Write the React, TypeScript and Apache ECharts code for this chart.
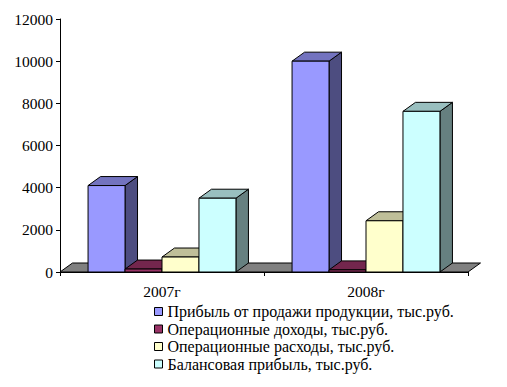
import React, { useEffect, useRef } from "react";
import * as echarts from "echarts";

const categories = ["2007г", "2008г"];
const profitSales = [4100, 10000];
const opIncome = [140, 100];
const opExpense = [710, 2430];
const balanceProfit = [3500, 7620];
const yTicks = { min: 0, max: 12000, interval: 2000 };

const seriesDefs = [
  { name: "Прибыль от продажи продукции, тыс.руб.", values: profitSales, front: "#9999FF", top: "#7373BF", side: "#4D4D80" },
  { name: "Операционные доходы, тыс.руб.", values: opIncome, front: "#993366", top: "#73264D", side: "#4D1A33" },
  { name: "Операционные расходы, тыс.руб.", values: opExpense, front: "#FFFFCC", top: "#BFBF99", side: "#808066" },
  { name: "Балансовая прибыль, тыс.руб.", values: balanceProfit, front: "#CCFFFF", top: "#99BFBF", side: "#668080" },
];

const DX = 12.5;
const DY = -9;
const FONT = "'Liberation Serif', serif";
const stroke = { stroke: "#000", lineWidth: 1 };

export default function App() {
  const ref = useRef<HTMLDivElement>(null);
  useEffect(() => {
    const chart = echarts.init(ref.current!, undefined, { renderer: "svg" });
    const barSeries = seriesDefs.map((s, si) => ({
      type: "custom",
      name: s.name,
      coordinateSystem: "cartesian2d",
      clip: false,
      z: 3,
      itemStyle: { color: s.front },
      encode: { x: 0, y: 1 },
      data: s.values.map((v, i) => [i, v]),
      renderItem: (_p: any, api: any) => {
        const idx = api.value(0);
        const val = api.value(1);
        const band = api.size([1, 0])[0];
        const w = (band * 0.725) / 4;
        const [cx, yTop] = api.coord([idx, val]);
        const [, y0] = api.coord([idx, 0]);
        const x0 = cx - 2 * w + si * w;
        const x1 = x0 + w;
        return {
          type: "group",
          children: [
            { type: "polygon", shape: { points: [[x1, y0], [x1 + DX, y0 + DY], [x1 + DX, yTop + DY], [x1, yTop]] }, style: { fill: s.side, ...stroke } },
            { type: "polygon", shape: { points: [[x0, yTop], [x0 + DX, yTop + DY], [x1 + DX, yTop + DY], [x1, yTop]] }, style: { fill: s.top, ...stroke } },
            { type: "rect", shape: { x: x0, y: yTop, width: w, height: y0 - yTop }, style: { fill: s.front, ...stroke } },
          ],
        };
      },
    }));
    const floor = {
      type: "custom",
      name: "floor",
      coordinateSystem: "cartesian2d",
      clip: false,
      z: 1,
      silent: true,
      encode: { x: 0, y: 1 },
      data: [[0, 0]],
      renderItem: (p: any) => {
        const c = p.coordSys;
        const b = c.y + c.height;
        return {
          type: "polygon",
          shape: { points: [[c.x, b], [c.x + DX, b + DY], [c.x + c.width + DX, b + DY], [c.x + c.width, b]] },
          style: { fill: "#808080", ...stroke },
        };
      },
    };
    chart.setOption({
      animation: false,
      backgroundColor: "#fff",
      grid: { left: 60, top: 19, width: 408, height: 253, containLabel: false },
      legend: {
        data: seriesDefs.map((s) => s.name),
        orient: "vertical",
        left: 149,
        top: 298,
        itemWidth: 8,
        itemHeight: 8,
        itemGap: 0.5,
        icon: "rect",
        itemStyle: { borderColor: "#000", borderWidth: 1 },
        textStyle: { fontFamily: FONT, fontSize: 16, color: "#000", lineHeight: 17 },
      },
      xAxis: {
        type: "category",
        data: categories,
        z: 5,
        axisLine: { lineStyle: { color: "#000", width: 1 } },
        axisTick: { show: true, length: 4, lineStyle: { color: "#000" } },
        axisLabel: { fontFamily: FONT, fontSize: 15.5, color: "#000", margin: 11 },
        splitLine: { show: false },
      },
      yAxis: {
        type: "value",
        ...yTicks,
        z: 5,
        axisLine: { show: true, lineStyle: { color: "#000", width: 1 } },
        axisTick: { show: true, length: 4, lineStyle: { color: "#000" } },
        axisLabel: { fontFamily: FONT, fontSize: 15.5, color: "#000", margin: 7, formatter: (v: number) => String(v) },
        splitLine: { show: false },
      },
      series: [floor, ...barSeries],
    });
    return () => chart.dispose();
  }, []);
  return <div ref={ref} style={{ position: "absolute", left: 0, top: 0, width: 507, height: 387 }} />;
}
